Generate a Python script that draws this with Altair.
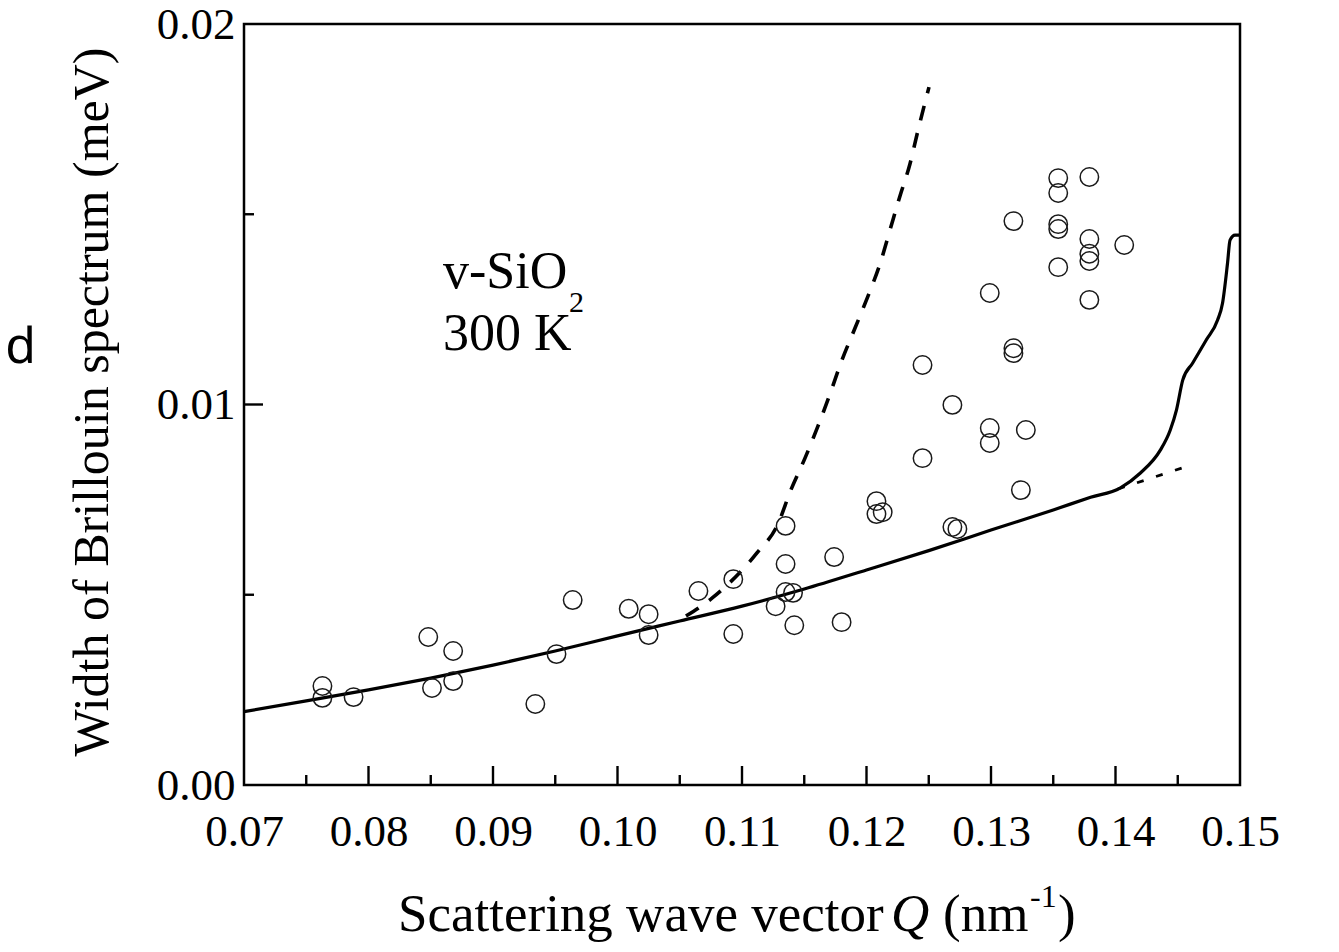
import altair as alt
import pandas as pd

# ---------------- data ----------------
q_pts = [0.0763, 0.0763, 0.0788, 0.0848, 0.0851, 0.0868, 0.0868, 0.0934, 0.0951, 0.0964,
         0.1009, 0.1025, 0.1025, 0.1065, 0.1093, 0.1093, 0.1127, 0.1135, 0.1135, 0.1135,
         0.1141, 0.1142, 0.1174, 0.1180, 0.1208, 0.1208, 0.1213, 0.1245, 0.1245, 0.1269,
         0.1269, 0.1273, 0.1299, 0.1299, 0.1299, 0.1318, 0.1318, 0.1318, 0.1328, 0.1324,
         0.1354, 0.1354, 0.1354, 0.1354, 0.1354, 0.1379, 0.1379, 0.1379, 0.1379, 0.1379,
         0.1407]
w_pts = [0.00260, 0.00229, 0.00231, 0.00389, 0.00255, 0.00352, 0.00273, 0.00213, 0.00344, 0.00486,
         0.00463, 0.00449, 0.00394, 0.00510, 0.00541, 0.00397, 0.00470, 0.00681, 0.00581, 0.00507,
         0.00505, 0.00420, 0.00599, 0.00428, 0.00746, 0.00712, 0.00717, 0.01104, 0.00859, 0.00999,
         0.00678, 0.00673, 0.01293, 0.00938, 0.00899, 0.01148, 0.01135, 0.01482, 0.00933, 0.00775,
         0.01595, 0.01556, 0.01474, 0.01461, 0.01361, 0.01598, 0.01435, 0.01396, 0.01377, 0.01275,
         0.01419]

# solid curve
q_fit = [0.070, 0.075, 0.080, 0.085, 0.090, 0.095, 0.100, 0.105, 0.110, 0.115,
         0.120, 0.125, 0.130, 0.135, 0.138, 0.1404, 0.1420, 0.1436, 0.1444, 0.1449, 0.1454,
         0.1462, 0.1473, 0.1482, 0.1486, 0.1490, 0.1492, 0.1496, 0.1500]
w_fit = [0.00193, 0.00221, 0.00250, 0.00281, 0.00315, 0.00352, 0.00392, 0.00431, 0.00470, 0.00515,
         0.00565, 0.00616, 0.00670, 0.00723, 0.00756, 0.00781, 0.00820, 0.00880, 0.00933, 0.00986,
         0.01064, 0.01109, 0.01170, 0.01222, 0.01267, 0.01372, 0.01432, 0.01445, 0.01445]

# long-dashed curve
q_dash = [0.10550, 0.10759, 0.11120, 0.11289, 0.11386, 0.11506, 0.11610, 0.11707, 0.11803,
          0.11908, 0.12012, 0.12108, 0.12189, 0.12269, 0.12349, 0.12414, 0.12502]
w_dash = [0.00444, 0.00491, 0.00610, 0.00686, 0.00770, 0.00859, 0.00943, 0.01028, 0.01117,
          0.01201, 0.01285, 0.01369, 0.01459, 0.01548, 0.01632, 0.01721, 0.01834]

# short dotted continuation
q_dot = [0.1402, 0.1456]
w_dot = [0.00778, 0.00836]

x_ticks = [0.07, 0.08, 0.09, 0.10, 0.11, 0.12, 0.13, 0.14, 0.15]
x_major_inner = [0.08, 0.09, 0.10, 0.11, 0.12, 0.13, 0.14]
x_minor = [0.075, 0.085, 0.095, 0.105, 0.115, 0.125, 0.135, 0.145]
y_ticks = [0.00, 0.01, 0.02]
y_major_inner = [0.01]
y_minor = [0.005, 0.015]

# ---------------- chart ----------------
W, H = 996, 761
SERIF = "Liberation Serif"

xs = alt.Scale(domain=[0.07, 0.15], nice=False, zero=False)
ys = alt.Scale(domain=[0.0, 0.02], nice=False, zero=False)
xaxis = alt.Axis(values=x_ticks, format=".2f", ticks=False, domain=False, grid=False,
                 labelFont=SERIF, labelFontSize=45, labelColor="black", labelPadding=24,
                 labelFlush=False, labelOverlap=False)
yaxis = alt.Axis(values=y_ticks, format=".2f", ticks=False, domain=False, grid=False,
                 labelFont=SERIF, labelFontSize=45, labelColor="black", labelPadding=9,
                 labelFlush=False, labelOverlap=False)


def X(f):
    return alt.X(f, type="quantitative", scale=xs, axis=xaxis, title=None)


def Y(f):
    return alt.Y(f, type="quantitative", scale=ys, axis=yaxis, title=None)


pts = pd.DataFrame({"q": q_pts, "w": w_pts})
fit = pd.DataFrame({"q": q_fit, "w": w_fit, "i": list(range(len(q_fit)))})
dash = pd.DataFrame({"q": q_dash, "w": w_dash, "i": list(range(len(q_dash)))})
dot = pd.DataFrame({"q": q_dot, "w": w_dot, "i": list(range(len(q_dot)))})

points = alt.Chart(pts).mark_point(shape="circle", filled=False, size=340,
                                   stroke="#1a1a1a", strokeWidth=1.5, opacity=1).encode(
    x=X("q"), y=Y("w"))

fit_line = alt.Chart(fit).mark_line(color="black", strokeWidth=3.2, interpolate="monotone").encode(
    x=X("q"), y=Y("w"), order="i:Q")
dash_line = alt.Chart(dash).mark_line(color="black", strokeWidth=3.6, strokeDash=[15, 13],
                                      interpolate="monotone").encode(
    x=X("q"), y=Y("w"), order="i:Q")
dot_line = alt.Chart(dot).mark_line(color="black", strokeWidth=2.8, strokeDash=[7, 13]).encode(
    x=X("q"), y=Y("w"), order="i:Q")

xmaj = alt.Chart(pd.DataFrame({"t": x_major_inner})).mark_rule(color="black", strokeWidth=2.4).encode(
    x=X("t"), y=alt.value(H), y2=alt.value(H - 19))
xmin = alt.Chart(pd.DataFrame({"t": x_minor})).mark_rule(color="black", strokeWidth=2.4).encode(
    x=X("t"), y=alt.value(H), y2=alt.value(H - 10))
ymaj = alt.Chart(pd.DataFrame({"t": y_major_inner})).mark_rule(color="black", strokeWidth=2.4).encode(
    y=Y("t"), x=alt.value(0), x2=alt.value(19))
ymin = alt.Chart(pd.DataFrame({"t": y_minor})).mark_rule(color="black", strokeWidth=2.4).encode(
    y=Y("t"), x=alt.value(0), x2=alt.value(10))

one = pd.DataFrame({"a": [0]})


def label(txt, x, y, size, align="left", baseline="alphabetic", angle=0, font=SERIF, style="normal"):
    kw = dict(text=txt, font=font, fontSize=size, align=align, baseline=baseline,
              color="black", fontStyle=style)
    if angle:
        kw["angle"] = angle
    return alt.Chart(one).mark_text(**kw).encode(x=alt.value(x), y=alt.value(y))


texts = [
    label("v-SiO", 199, 264, 52),
    label("2", 325, 288, 30),
    label("300 K", 199, 326, 52),
    label("Width of Brillouin spectrum (meV)", -151, 378, 50, align="center",
          baseline="middle", angle=270),
    label("Scattering wave vector", 154, 907, 53),
    label("Q", 647, 907, 53, style="italic"),
    label("(nm", 699, 907, 53),
    label("-1", 786, 883, 32),
    label(")", 814, 907, 53),
    label("ed", -208, 339, 50, align="right", font="Noto Sans"),
]

chart = alt.layer(fit_line, dash_line, dot_line, points, xmaj, xmin, ymaj, ymin, *texts).properties(
    width=W, height=H,
    background="white",
    autosize=alt.AutoSizeParams(type="none"),
    padding={"left": 236, "top": 16, "right": 60, "bottom": 159},
).configure_view(stroke="black", strokeWidth=2.5, strokeOpacity=1)

chart.save("out.html", embed_options={"renderer": "svg", "actions": False})
